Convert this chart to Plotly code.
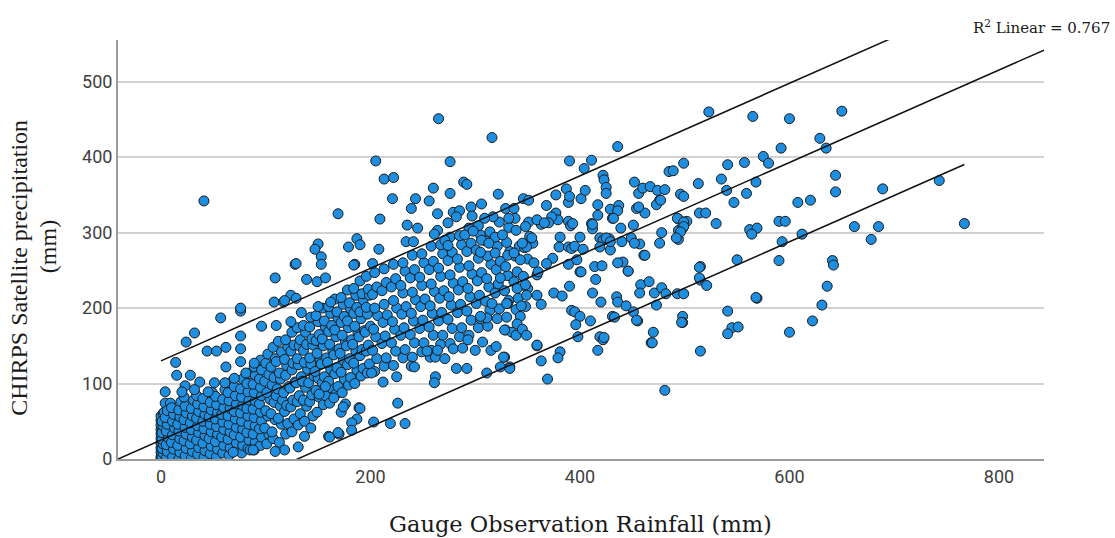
import plotly.graph_objects as go

# Gauge observation (mm) vs CHIRPS satellite estimate (mm), as (gauge, chirps) pairs.

# stations reporting (near) zero gauge rainfall
zero_gauge_points = [
    (0, 0), (0, 3), (1, 6), (0, 9), (2, 12), (0, 15), (1, 18), (0, 21), (2, 24), (0, 27),
    (1, 30), (0, 33), (2, 36), (0, 39), (1, 42), (0, 45), (2, 48), (0, 51), (1, 54), (0, 57),
    (2, 60), (1, 2), (2, 8), (1, 14), (2, 20), (1, 26), (1, 35), (2, 44), (1, 50), (3, 62),
    (4, 74), (4, 89), (9, 74),
]

# dense low-rainfall block
low_points = [
    (5, 1), (6, 10), (5, 19), (7, 28), (5, 37), (6, 46), (4, 55), (6, 64),
    (11, 3), (12, 13), (10, 22), (11, 32), (13, 41), (11, 50), (12, 59), (10, 68),
    (17, 0), (18, 9), (16, 18), (18, 27), (17, 37), (16, 46), (18, 56), (17, 65), (19, 76),
    (23, 4), (24, 14), (22, 24), (24, 33), (23, 42), (22, 52), (24, 61), (23, 70), (22, 82),
    (29, 1), (30, 10), (28, 20), (30, 29), (29, 39), (28, 48), (30, 57), (29, 67), (31, 78),
    (35, 6), (36, 15), (34, 25), (36, 35), (35, 44), (34, 54), (36, 63), (35, 73), (34, 84),
    (41, 2), (42, 11), (40, 21), (42, 31), (41, 40), (40, 50), (42, 59), (41, 69), (40, 80),
    (47, 7), (48, 17), (46, 27), (48, 36), (47, 46), (46, 56), (48, 65), (47, 75), (49, 88),
    (53, 3), (54, 13), (52, 23), (54, 33), (53, 43), (52, 53), (54, 62), (53, 72), (52, 83),
    (59, 8), (60, 18), (58, 29), (60, 39), (59, 49), (58, 59), (60, 68), (59, 79), (61, 92),
    (65, 5), (66, 15), (64, 26), (66, 36), (65, 46), (64, 57), (66, 67), (65, 77), (64, 88), (66, 101),
    (71, 11), (72, 21), (70, 32), (72, 42), (71, 53), (70, 63), (72, 73), (71, 84), (70, 96),
    (77, 8), (78, 18), (76, 29), (78, 40), (77, 50), (76, 61), (78, 71), (77, 82), (76, 93), (78, 106),
    (83, 14), (84, 25), (82, 35), (84, 46), (83, 57), (82, 67), (84, 78), (83, 89), (82, 100), (84, 113),
    (89, 12), (90, 22), (88, 33), (90, 44), (89, 55), (88, 66), (90, 77), (89, 88), (88, 99), (90, 111), (89, 122),
    (95, 18), (96, 29), (94, 40), (96, 51), (95, 62), (94, 73), (96, 84), (95, 95), (94, 106), (96, 118), (95, 131),
]

# main cloud, 100-200 mm gauge
mid_points = [
    (101, 20), (103, 33), (99, 41), (102, 57), (100, 64), (104, 79), (101, 88), (99, 103), (103, 112), (100, 127), (102, 139),
    (107, 27), (106, 36), (109, 52), (105, 60), (108, 75), (110, 84), (106, 98), (108, 108), (105, 122), (109, 133), (107, 148),
    (113, 22), (115, 46), (112, 54), (114, 70), (116, 78), (111, 93), (114, 106), (113, 114), (110, 129), (115, 142), (112, 156),
    (119, 33), (121, 47), (118, 63), (120, 71), (117, 88), (122, 96), (119, 111), (120, 124), (118, 132), (121, 149), (119, 158),
    (125, 36), (127, 53), (124, 69), (126, 78), (123, 94), (128, 102), (125, 118), (126, 127), (124, 143), (127, 151), (125, 168),
    (131, 45), (133, 60), (130, 76), (132, 84), (129, 101), (134, 109), (131, 125), (130, 133), (132, 150), (133, 158), (130, 174),
    (137, 50), (139, 70), (136, 78), (138, 95), (135, 103), (140, 119), (137, 128), (136, 144), (139, 152), (138, 168), (136, 177),
    (143, 41), (145, 57), (142, 76), (144, 85), (141, 101), (146, 110), (143, 126), (142, 134), (145, 151), (144, 159), (142, 175), (143, 188),
    (149, 62), (151, 82), (148, 91), (150, 107), (147, 116), (152, 132), (149, 140), (148, 157), (151, 165), (150, 182), (148, 190),
    (155, 72), (157, 84), (154, 101), (156, 109), (153, 126), (158, 134), (155, 150), (154, 159), (157, 175), (156, 183), (154, 200),
    (161, 74), (163, 94), (160, 103), (162, 119), (159, 128), (164, 144), (161, 152), (160, 169), (163, 177), (162, 193), (160, 202),
    (167, 86), (169, 96), (166, 113), (168, 121), (165, 138), (170, 146), (167, 162), (166, 171), (169, 187), (168, 195), (166, 212),
    (173, 88), (175, 106), (172, 115), (174, 131), (171, 140), (176, 156), (173, 164), (172, 181), (175, 189), (174, 205), (172, 214),
    (179, 98), (181, 108), (178, 125), (180, 133), (177, 150), (182, 158), (179, 174), (178, 183), (181, 199), (180, 207), (178, 224),
    (185, 100), (187, 118), (184, 127), (186, 143), (183, 152), (188, 168), (185, 176), (184, 193), (187, 201), (186, 217), (184, 226),
    (191, 110), (193, 120), (190, 137), (192, 145), (189, 162), (194, 170), (191, 186), (190, 195), (193, 211), (192, 219), (190, 236),
    (197, 114), (199, 126), (196, 143), (198, 151), (195, 168), (200, 176), (197, 192), (196, 201), (199, 217), (198, 225), (196, 242),
]

# main cloud, 200-350 mm gauge
high_points = [
    (204, 116), (206, 133), (202, 144), (205, 162), (203, 172), (207, 190), (204, 200), (202, 218), (206, 228), (204, 247),
    (213, 123), (215, 134), (211, 153), (214, 163), (212, 181), (216, 191), (213, 205), (211, 223), (215, 234), (213, 252),
    (222, 124), (224, 143), (220, 154), (223, 172), (221, 182), (225, 200), (222, 210), (220, 228), (224, 239), (222, 258),
    (231, 134), (233, 145), (229, 164), (232, 174), (230, 192), (234, 202), (231, 220), (229, 230), (233, 249), (231, 260),
    (240, 135), (242, 154), (238, 165), (241, 183), (239, 193), (243, 211), (240, 221), (238, 240), (242, 251), (240, 270),
    (249, 142), (251, 154), (247, 173), (250, 184), (248, 202), (252, 212), (249, 230), (247, 241), (251, 260), (249, 272),
    (258, 144), (260, 164), (256, 175), (259, 193), (257, 203), (261, 222), (258, 232), (256, 251), (260, 262), (258, 282),
    (267, 152), (269, 164), (265, 183), (268, 194), (266, 213), (270, 223), (267, 242), (265, 253), (269, 272), (267, 284),
    (276, 153), (278, 173), (274, 185), (277, 204), (275, 215), (279, 233), (276, 244), (274, 263), (278, 274), (276, 294),
    (285, 162), (287, 174), (283, 194), (286, 205), (284, 224), (288, 235), (285, 254), (283, 265), (287, 284), (285, 296),
    (294, 164), (296, 184), (292, 196), (295, 215), (293, 226), (297, 245), (294, 256), (292, 275), (296, 286), (294, 306),
    (303, 174), (305, 186), (301, 206), (304, 217), (302, 236), (306, 247), (303, 266), (301, 277), (305, 297), (303, 309),
    (312, 176), (314, 197), (310, 209), (313, 228), (311, 239), (315, 258), (312, 269), (310, 289), (314, 301),
    (321, 186), (323, 199), (319, 220), (322, 232), (320, 251), (324, 262), (321, 282), (319, 294), (323, 314),
    (330, 188), (332, 210), (328, 223), (331, 243), (329, 255), (333, 275), (330, 287), (332, 307),
    (339, 198), (341, 213), (337, 235), (340, 248), (338, 269), (342, 282), (339, 303),
    (348, 202), (350, 226), (346, 242), (350, 265), (347, 280),
]

# scattered stations around the cloud
spread_points = [
    (41, 342), (265, 451), (316, 426), (205, 395), (276, 394), (213, 371), (222, 373), (221, 345), (209, 318), (169, 325),
    (150, 285), (147, 278), (153, 268), (153, 258), (179, 281), (187, 292), (190, 284), (208, 278), (128, 258), (185, 258), (202, 259),
    (289, 367), (292, 364), (260, 359), (276, 352), (243, 345), (256, 342), (239, 332), (264, 325), (279, 327), (285, 329),
    (282, 321), (296, 334), (297, 322), (306, 338), (322, 351), (235, 310), (245, 306), (274, 313), (264, 303), (261, 298),
    (234, 288), (241, 288), (271, 290), (274, 283), (290, 297), (298, 302), (306, 290), (305, 274), (313, 286), (319, 273),
    (326, 297), (329, 332), (337, 332), (317, 321), (309, 319),
    (523, 460), (565, 454), (436, 414), (390, 395), (411, 396), (404, 385), (346, 345), (351, 343), (368, 336), (377, 350),
    (387, 358), (389, 340), (390, 348), (401, 345), (405, 356), (417, 337), (422, 376), (423, 370), (425, 360), (425, 352),
    (429, 331), (437, 336), (436, 329), (431, 319), (452, 367), (456, 352), (460, 359), (467, 361), (474, 356), (481, 357),
    (476, 343), (473, 337), (485, 381), (489, 382), (499, 392), (496, 351), (499, 348), (513, 365), (535, 371), (541, 390),
    (557, 393), (540, 356), (547, 340), (559, 352), (568, 367), (454, 332), (462, 326), (494, 318), (502, 315), (514, 326),
    (520, 326), (530, 312), (494, 303), (498, 306), (494, 291), (478, 300), (476, 286), (457, 285), (461, 270), (451, 310),
    (439, 306), (428, 292), (422, 291), (411, 312), (412, 305), (562, 304), (569, 306), (564, 298), (515, 255), (550, 264),
    (600, 451), (650, 461), (629, 425), (635, 412), (592, 412), (575, 401), (580, 392), (644, 376), (644, 354), (689, 358),
    (743, 369), (767, 312), (608, 340), (620, 343), (590, 315), (596, 315), (662, 308), (685, 308), (678, 291), (612, 298),
    (593, 288), (590, 263), (641, 263), (642, 257), (636, 229), (569, 213), (631, 204), (622, 183), (600, 168), (545, 174),
    (390, 229), (375, 220), (383, 216), (363, 205), (359, 217), (415, 238), (412, 220), (420, 208), (400, 248), (446, 249),
    (435, 215), (436, 208), (444, 203), (451, 195), (455, 183), (431, 189), (410, 183), (392, 197), (395, 195), (400, 189),
    (396, 178), (398, 162), (419, 162), (422, 158), (417, 144), (381, 142), (379, 134), (363, 130), (359, 150), (369, 106),
    (481, 91), (468, 154), (470, 168), (473, 204), (458, 231), (457, 220), (466, 235), (471, 220), (478, 227), (482, 219),
    (493, 219), (499, 219), (498, 189), (498, 181), (515, 237), (521, 230), (515, 143), (541, 196), (541, 166), (551, 175),
    (568, 214), (514, 240), (514, 254),
    (331, 206), (340, 226), (348, 231), (349, 217), (344, 203), (343, 189), (340, 179), (329, 171), (335, 168), (339, 164),
    (345, 172), (349, 164), (359, 151), (328, 135), (333, 122), (359, 244),
    (226, 74), (203, 49), (219, 47), (233, 47), (187, 53), (182, 48), (189, 68), (176, 73), (172, 62), (165, 81),
    (160, 30), (170, 33), (157, 96), (151, 86), (225, 109), (262, 109), (261, 101), (212, 102), (201, 114), (311, 114),
    (324, 122), (333, 120), (327, 135), (292, 120), (282, 120), (239, 123), (242, 122), (257, 135), (262, 135), (271, 133),
    (254, 143), (264, 144), (279, 146), (288, 147), (293, 158), (300, 144), (307, 155), (315, 144), (320, 149), (311, 187),
    (305, 189), (328, 171), (330, 206), (316, 206), (324, 240),
    (338, 319), (332, 319), (377, 326), (379, 317), (373, 321), (363, 311), (370, 313), (351, 314), (359, 317), (348, 308),
    (352, 295), (355, 286), (381, 294), (389, 315), (391, 309), (393, 312), (412, 311), (417, 323), (432, 319), (456, 334),
    (477, 343), (493, 319), (499, 314), (499, 308), (496, 301), (492, 293), (449, 293), (462, 270), (441, 261), (446, 249),
    (429, 277), (419, 293), (422, 290), (425, 293), (419, 281), (429, 288), (400, 294), (440, 288), (452, 286), (436, 260),
    (401, 248), (414, 255), (421, 256), (380, 281), (389, 281), (392, 279), (395, 282), (403, 278), (397, 264), (389, 258),
    (374, 266), (368, 259), (356, 260), (360, 248), (343, 264), (331, 270), (337, 273), (349, 281), (354, 293), (345, 286),
    (366, 313), (423, 161), (469, 154), (497, 181), (454, 184), (433, 188),
    (76, 196), (57, 187), (32, 167), (24, 155), (14, 128), (15, 111), (28, 111), (44, 143), (53, 143), (62, 148),
    (76, 163), (76, 146), (76, 129), (96, 176), (110, 177), (124, 182), (108, 208), (117, 208), (134, 194),
    (23, 97), (20, 89), (37, 102), (32, 92), (45, 89), (51, 101), (61, 101), (62, 122), (70, 107), (81, 114), (89, 127),
    (109, 240), (139, 238), (149, 235), (157, 240), (124, 217), (118, 210), (129, 213), (150, 202), (162, 208), (76, 200),
    (129, 259), (184, 257),
    (161, 29), (169, 35), (182, 38), (174, 69), (190, 67), (131, 16), (137, 30), (118, 12), (109, 10), (85, 12), (88, 12), (69, 9),
]

# linear fit and its individual prediction band
fit_intercept = 25.1
fit_slope = 0.613
band_half_width = 105.0
r2_linear = 0.767

x_ticks = [0, 200, 400, 600, 800]
y_ticks = [0, 100, 200, 300, 400, 500]
x_range = [-41.05, 843.0]
y_range = [0, 555.3]

all_points = zero_gauge_points + low_points + mid_points + high_points + spread_points
gauge = [p[0] for p in all_points]
chirps = [p[1] for p in all_points]

fig = go.Figure()

fig.add_trace(go.Scatter(
    x=gauge, y=chirps, mode="markers",
    marker=dict(size=10, color="#1e8fe0", line=dict(color="#1a1a1a", width=1)),
    hoverinfo="skip",
))

line_style = dict(color="#111111", width=1.5)

fit_x = list(x_range)
fig.add_trace(go.Scatter(
    x=fit_x, y=[fit_intercept + fit_slope * v for v in fit_x],
    mode="lines", line=line_style, hoverinfo="skip",
))

band_x = [min(gauge), max(gauge)]
for sign in (1, -1):
    fig.add_trace(go.Scatter(
        x=band_x,
        y=[fit_intercept + fit_slope * v + sign * band_half_width for v in band_x],
        mode="lines", line=line_style, hoverinfo="skip",
    ))

axis_line = "#9b9b9b"
tick_font = dict(family="Roboto", size=18, color="#404040")

fig.update_layout(
    width=1115, height=538,
    margin=dict(l=118, r=71, t=40, b=79),
    paper_bgcolor="white", plot_bgcolor="white",
    showlegend=False,
    xaxis=dict(
        range=x_range, tickvals=x_ticks, ticks="", showgrid=False, zeroline=False,
        showline=True, linecolor=axis_line, linewidth=2, tickfont=tick_font,
    ),
    yaxis=dict(
        range=y_range, tickvals=y_ticks, ticks="", showgrid=True,
        gridcolor="#d2d2d2", gridwidth=1.5, zeroline=False,
        showline=True, linecolor=axis_line, linewidth=2, tickfont=tick_font,
    ),
    annotations=[
        dict(text="Gauge Observation Rainfall (mm)", xref="paper", yref="paper",
             x=0.499, y=-0.155, xanchor="center", yanchor="middle", showarrow=False,
             font=dict(family="DejaVu Serif", size=22.5, color="#1a1a1a")),
        dict(text="CHIRPS Satellite precipitation", xref="paper", yref="paper",
             x=-0.107, y=0.456, xanchor="center", yanchor="middle", showarrow=False,
             textangle=-90, font=dict(family="Liberation Serif", size=24, color="#1a1a1a")),
        dict(text="(mm)", xref="paper", yref="paper",
             x=-0.0756, y=0.508, xanchor="center", yanchor="middle", showarrow=False,
             textangle=-90, font=dict(family="Liberation Serif", size=24, color="#1a1a1a")),
        dict(text=f"R<sup>2</sup> Linear = {r2_linear:.3f}", xref="paper", yref="paper",
             x=1.0734, y=1.032, xanchor="right", yanchor="middle", showarrow=False,
             font=dict(family="DejaVu Serif", size=15, color="#1a1a1a")),
    ],
)

fig.write_html("out.html")
